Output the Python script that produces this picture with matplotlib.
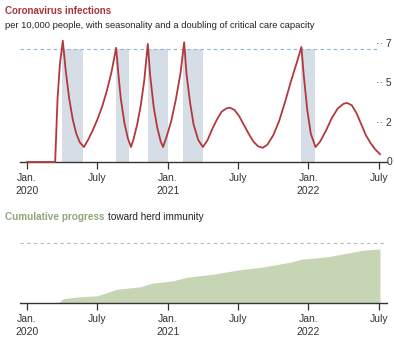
import numpy as np
import matplotlib
matplotlib.use('Agg')
import matplotlib.pyplot as plt
from matplotlib.transforms import blended_transform_factory

plt.rcParams['font.family'] = ['Liberation Sans', 'DejaVu Sans']
plt.rcParams['font.stretch'] = 'condensed'

# months since Jan. 2020
inf_month = [0, 2.4, 2.45, 2.6, 2.8, 3.05,
             3.3, 3.6, 3.9, 4.2, 4.5, 4.85,
             5.2, 5.6, 6.0, 6.4, 6.8, 7.2, 7.6,
             7.8, 8.0, 8.3, 8.6, 8.87,
             9.1, 9.4, 9.7, 10.0, 10.3,
             10.5, 10.8, 11.1, 11.4, 11.6,
             11.9, 12.3, 12.7, 13.1, 13.4,
             13.6, 13.9, 14.2, 14.6, 15.0,
             15.4, 15.8, 16.2, 16.6, 17.0, 17.3, 17.7, 18.1, 18.5, 18.9, 19.3, 19.7, 20.1,
             20.5, 21.0, 21.5, 22.0, 22.5, 23.0, 23.4,
             23.6, 23.9, 24.2, 24.6,
             25.0, 25.5, 26.0, 26.5, 27.0, 27.3, 27.7, 28.1, 28.5, 28.9, 29.3, 29.7, 30.1]
inf_value = [0, 0, 10, 40, 62, 77,
             58, 40, 27, 18, 12.5, 9.5,
             14, 20, 27, 35, 45, 57, 72.5,
             55, 40, 25, 15, 9.5,
             15, 24, 36, 52, 75,
             55, 35, 22, 13, 9.5,
             16, 26, 40, 57, 76,
             56, 38, 24, 14, 9.5,
             14, 21, 27, 32, 34, 34.5, 33, 29, 23.5, 18, 13, 10, 9,
             11, 17, 26, 38, 51, 63, 73,
             55, 33, 18, 9.5,
             13, 20, 28, 34, 37, 37.5, 36, 31, 24, 17, 12, 8, 5]

distancing_start = [3.0, 7.6, 10.3, 13.3, 23.4]
distancing_end = [4.8, 8.7, 12.0, 15.0, 24.6]
capacity = 72
y_ticks = [0, 25, 50, 75]
y_labels = ['0', '2', '5', '7']  # cut at the right edge in the original

imm_month = [2.65, 3.07, 4.27, 5.97, 7.68, 9.64, 10.67, 12.46, 13.65, 15.87,
             18.0, 20.14, 22.44, 23.46, 25.6, 27.3, 28.67, 30.1]
imm_value = [0, 7, 10, 12, 23, 27, 33, 37, 43, 48,
             55, 60, 68, 73, 77, 83, 88, 90]
herd_level = 100

tick_pos = [0, 6, 12, 18, 24, 30]
tick_lab = ['Jan.\n2020', 'July', 'Jan.\n2021', 'July', 'Jan.\n2022', 'July']

W, H = 394, 339
fig = plt.figure(figsize=(W / 100, H / 100), dpi=100)

red = '#b3383e'
green = '#c6d5b4'
xlim = (-0.6, 30.7)


def fit_text(t, width_px):
    # shrink/grow a text so it spans width_px
    fig.canvas.draw()
    w = t.get_window_extent().width
    t.set_fontsize(t.get_fontsize() * width_px / w)


def style_axis(ax):
    for s in ['top', 'left', 'right']:
        ax.spines[s].set_visible(False)
    ax.spines['bottom'].set_color('#333333')
    ax.spines['bottom'].set_linewidth(1.0)
    ax.set_yticks([])
    ax.set_xticks(tick_pos)
    ax.set_xticklabels(tick_lab, fontsize=7.5, color='#333333', linespacing=1.4)
    ax.tick_params(axis='x', length=5, width=0.9, color='#333333', pad=3)
    ax.set_xlim(*xlim)
    ax.patch.set_alpha(0)


# top panel
ax1 = fig.add_axes([20 / W, (H - 162) / H, 367 / W, 126 / H])
style_axis(ax1)
ax1.set_ylim(0, 80)
for a, b in zip(distancing_start, distancing_end):
    ax1.fill_between([a, b], 0, capacity, color='#d5dde6', lw=0, zorder=1)
ax1.plot([-0.6, 30.0], [capacity, capacity], ls=(0, (3, 3)), color='#8db3d8', lw=0.8, zorder=2)
ax1.plot(inf_month, inf_value, color=red, lw=1.3, zorder=3, clip_on=False)

tr = blended_transform_factory(fig.transFigure, ax1.transData)
for v, s in zip(y_ticks, y_labels):
    lab = s if v == 0 else '·· ' + s
    x0 = 387 / W if v == 0 else 376 / W
    fig.text(x0, v, lab, transform=tr, fontsize=7.5, color='#333333',
             ha='left', va='center')

t = fig.text(5 / W, 1 - 11 / H, 'Coronavirus infections', fontsize=8.5,
             color='#a8353b', fontweight='bold', va='center')
fit_text(t, 106)
t = fig.text(5 / W, 1 - 25 / H,
             'per 10,000 people, with seasonality and a doubling of critical care capacity',
             fontsize=8, color='#222222', va='center')
fit_text(t, 313)

# bottom panel
ax2 = fig.add_axes([20 / W, (H - 303) / H, 367 / W, 72 / H])
style_axis(ax2)
ax2.set_ylim(0, 120)
ax2.fill_between(imm_month, 0, imm_value, color=green, lw=0, zorder=1)
ax2.axhline(herd_level, ls=(0, (3, 3)), color='#bbbbbb', lw=0.8, zorder=2)

t1 = fig.text(5 / W, 1 - 217 / H, 'Cumulative progress', fontsize=8.5,
              color='#8ea77b', fontweight='bold', va='center')
fit_text(t1, 100)
fig.canvas.draw()
bb = t1.get_window_extent()
t2 = fig.text(bb.x1 / W + 3 / W, 1 - 217 / H, 'toward herd immunity',
              fontsize=t1.get_fontsize(), color='#222222', va='center')

fig.savefig('out.png', dpi=100)
